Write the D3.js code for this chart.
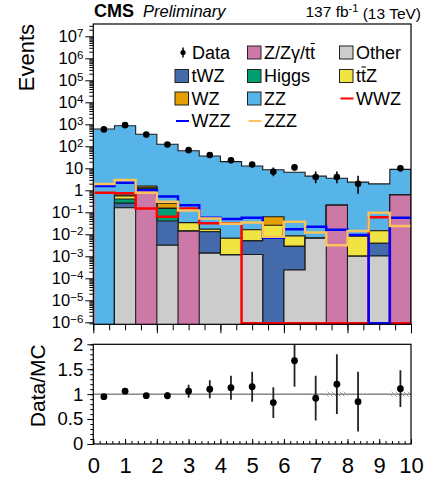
<!DOCTYPE html>
<html><head><meta charset="utf-8">
<script src="https://cdn.jsdelivr.net/npm/d3@7"></script>
<style>body{margin:0;background:#fff}svg{display:block;font-family:"Liberation Sans",Arial,Helvetica,sans-serif}</style>
</head><body><svg id="c" width="427" height="479"></svg>
<script>
// ---- data ----
const binEdges = [0, 2/3, 4/3, 2, 8/3, 10/3, 4, 14/3, 16/3, 6, 20/3, 22/3, 8, 26/3, 28/3, 10];
const other = [0, 0.16, 0, 0.0032, 0, 0.0014, 0.00115, 0.0012, 0, 0.00024, 0.0066, 0, 0.001, 0.00104, 0];
const zzg   = [0, 0, 1.03, 0, 0.014, 0, 0, 0, 0, 0, 0, 0.21, 0, 0, 0.62];
const twz   = [0, 0.10, 0.10, 0.037, 0, 0.0116, 0, 0.0038, 0.0066, 0.0026, 0, 0, 0, 0.0029, 0];
const higgs = [0, 0.14, 0.10, 0.11, 0, 0, 0, 0, 0, 0, 0, 0, 0, 0, 0];
const ttz   = [0, 0.16, 0.15, 0, 0.02, 0.004, 0.0055, 0.011, 0.019, 0.0055, 0, 0, 0.0073, 0.0106, 0];
const wz    = [0, 0.05, 0.20, 0.11, 0, 0, 0, 0, 0.037, 0, 0, 0, 0, 0, 0];
const zz    = [611, 862, 349, 124, 63, 36, 20, 12.7, 8.5, 6.6, 4.4, 3.3, 2.35, 1.94, 8.3];
const wwzSig = [0.78, 0.73, 0.15, 0.063, 0.15, 0.032, 0.032, 0, 0, 0, 0, 0, 0, 0.059, 0];
const wzzSig = [1.57, 2.2, 1.0, 0.52, 0.21, 0.056, 0.05, 0.056, 0.007, 0.017, 0.022, 0.016, 0.0093, 0, 0.056];
const zzzSig = [1.93, 2.95, 0.78, 0.30, 0.12, 0.052, 0.030, 0.034, 0.0078, 0.037, 0.012, 0.0032, 0.014, 0.095, 0.024];
const dataVals  = [587, 915, 340, 120, 67, 40, 23, 15, 7, 11, 4, 4, 2, null, 10];
const dataErrLo = [24, 30, 18, 11, 8.2, 6.3, 4.8, 3.8, 2.6, 3.3, 1.9, 1.9, 1.3, null, 3.1];
const dataErrHi = [25, 31, 19, 12, 9.2, 7.4, 5.9, 5.0, 3.8, 4.4, 3.2, 3.2, 2.6, null, 4.3];
const ratioVals = [0.95, 1.06, 0.97, 0.97, 1.06, 1.10, 1.13, 1.15, 0.83, 1.67, 0.92, 1.20, 0.85, null, 1.11];
const ratioErr  = [0.04, 0.04, 0.05, 0.07, 0.13, 0.18, 0.24, 0.30, 0.31, 0.52, 0.45, 0.60, 0.60, null, 0.37];
const mcUnc     = [0.01, 0.01, 0.01, 0.01, 0.01, 0.01, 0.01, 0.015, 0.015, 0.015, 0.02, 0.05, 0.015, 0.02, 0.05];
const yMajorTicks = [-6, -5, -4, -3, -2, -1, 0, 1, 2, 3, 4, 5, 6, 7];
const ratioTicks = [0, 0.5, 1, 1.5, 2];
const ratioTickLabels = ["0", "0.5", "1", "1.5", "2"];
const xTicks = [0, 1, 2, 3, 4, 5, 6, 7, 8, 9, 10];

const stackKeys = ["other", "zzg", "twz", "higgs", "ttz", "wz", "zz"];
const stackColors = {other:"#cccccc", zzg:"#cc79a7", twz:"#436aab", higgs:"#009e73", ttz:"#f0e442", wz:"#e69f00", zz:"#56b4e9"};
const seriesArrays = {other, zzg, twz, higgs, ttz, wz, zz};

// ---- layout ----
const svg = d3.select("#c");
const L = 93.3, R = 411, T = 24, B = 324.3, RT = 344.3, RB = 444;
const x = d3.scaleLinear().domain([0, 10]).range([L, R]);
const y = d3.scaleLog().domain([Math.pow(10, -6.0909), Math.pow(10, 7.559)]).range([B, T]);
const yr = d3.scaleLinear().domain([0, 2]).range([RB, RT]);
const nb = binEdges.length - 1;
const centers = d3.range(nb).map(i => (binEdges[i] + binEdges[i + 1]) / 2);
const yv = v => (v > 0 ? y(v) : B + 2);

const defs = svg.append("defs");
defs.append("clipPath").attr("id", "clipMain").append("rect").attr("x", L).attr("y", T).attr("width", R - L).attr("height", B - T + 0.5);
defs.append("clipPath").attr("id", "clipRatio").append("rect").attr("x", L).attr("y", RT).attr("width", R - L).attr("height", RB - RT);
const pat = defs.append("pattern").attr("id", "hatch").attr("patternUnits", "userSpaceOnUse").attr("width", 4).attr("height", 4);
pat.append("path").attr("d", "M-1,-1 L5,5 M-1,3 L1,5 M3,-1 L5,1").attr("stroke", "#8a8a8a").attr("stroke-width", 0.8);

// ---- main stack ----
const rows = d3.range(nb).map(i => { const o = {}; stackKeys.forEach(k => o[k] = seriesArrays[k][i]); return o; });
const stacked = d3.stack().keys(stackKeys)(rows);
const gMain = svg.append("g").attr("clip-path", "url(#clipMain)");
const stepPts = arr => binEdges.map((e, i) => ({e, v: arr[Math.min(i, nb - 1)]}));
const area = d3.area().curve(d3.curveStepAfter).x(d => x(d.e)).y0(B + 2).y1(d => yv(d.v));
const line = d3.line().curve(d3.curveStepAfter).x(d => x(d.e)).y(d => yv(d.v));

for (let k = stacked.length - 1; k >= 0; k--) {
  const tops = stacked[k].map(d => d[1]);
  gMain.append("path").datum(stepPts(tops)).attr("d", area)
    .attr("fill", stackColors[stacked[k].key]).attr("stroke", "#1a1a1a").attr("stroke-width", 1.1);
}

// signal lines
const sigLine = d3.line().curve(d3.curveStepAfter).x(d => x(d.e)).y(d => (d.v > 0 ? y(d.v) : B - 1));
const sigs = [[wwzSig, "#ff0000"], [wzzSig, "#0000ff"], [zzzSig, "#fcc35c"]];
sigs.forEach(([arr, col]) => {
  const pts = [{e: binEdges[0], v: 0}].concat(stepPts(arr));
  gMain.append("path").datum(pts).attr("d", sigLine).attr("fill", "none").attr("stroke", col).attr("stroke-width", 2.5);
});

// data points
const gData = svg.append("g").attr("clip-path", "url(#clipMain)");
d3.range(nb).forEach(i => {
  if (dataVals[i] == null) return;
  gData.append("line").attr("x1", x(centers[i])).attr("x2", x(centers[i]))
    .attr("y1", y(dataVals[i] - dataErrLo[i])).attr("y2", y(dataVals[i] + dataErrHi[i]))
    .attr("stroke", "#000").attr("stroke-width", 1.6);
  gData.append("circle").attr("cx", x(centers[i])).attr("cy", y(dataVals[i])).attr("r", 3.3).attr("fill", "#000");
});

// main axes
const fmtSup = (sel) => {
  sel.selectAll(".tick text").each(function (d) {
    const e = Math.round(Math.log10(d));
    const t = d3.select(this).text(null);
    if (e === 0) { t.text("1"); return; }
    if (e === 1) { t.text("10"); return; }
    t.append("tspan").text("10");
    t.append("tspan").attr("dy", "-0.45em").attr("font-size", "11.5px").text(e < 0 ? "\u2212" + (-e) : String(e));
  });
};
const yMajor = yMajorTicks.map(e => Math.pow(10, e));
const yMinor = [];
for (let e = -7; e <= 7; e++) for (let m = 2; m <= 9; m++) { const v = m * Math.pow(10, e); if (v > y.domain()[0] && v < y.domain()[1]) yMinor.push(v); }
svg.append("g").attr("transform", `translate(${L},0)`)
  .call(d3.axisLeft(y).tickValues(yMinor).tickSize(4).tickFormat(""))
  .call(g => g.select(".domain").remove()).selectAll("line").attr("stroke", "#000");
const gY = svg.append("g").attr("transform", `translate(${L},0)`)
  .call(d3.axisLeft(y).tickValues(yMajor).tickSize(8).tickPadding(2))
  .call(g => g.select(".domain").remove());
gY.selectAll("line").attr("stroke", "#000");
gY.selectAll("text").attr("font-size", "16.5px").attr("fill", "#000").attr("font-family", "Liberation Sans, Arial, sans-serif");
fmtSup(gY);

// main x ticks (below frame, no labels)
const mainMinorX = d3.range(0, 10.01, 0.5);
svg.append("g").attr("transform", `translate(0,${B})`)
  .call(d3.axisBottom(x).tickValues(mainMinorX).tickSize(6).tickFormat(""))
  .call(g => g.select(".domain").remove()).selectAll("line").attr("stroke", "#000");
svg.append("g").attr("transform", `translate(0,${B})`)
  .call(d3.axisBottom(x).tickValues([0, 2, 4, 6, 8, 10]).tickSize(9).tickFormat(""))
  .call(g => g.select(".domain").remove()).selectAll("line").attr("stroke", "#000");

svg.append("rect").attr("x", L).attr("y", T).attr("width", R - L).attr("height", B - T)
  .attr("fill", "none").attr("stroke", "#000").attr("stroke-width", 1.2);

// ---- ratio panel ----
const gR = svg.append("g").attr("clip-path", "url(#clipRatio)");
d3.range(nb).forEach(i => {
  gR.append("rect").attr("x", x(binEdges[i])).attr("width", x(binEdges[i + 1]) - x(binEdges[i]))
    .attr("y", yr(1 + mcUnc[i])).attr("height", yr(1 - mcUnc[i]) - yr(1 + mcUnc[i]))
    .attr("fill", "url(#hatch)");
});
gR.append("line").attr("x1", x(0)).attr("x2", x(10)).attr("y1", yr(1)).attr("y2", yr(1))
  .attr("stroke", "#8c8c8c").attr("stroke-width", 1.5);
d3.range(nb).forEach(i => {
  if (ratioVals[i] == null) return;
  gR.append("line").attr("x1", x(centers[i])).attr("x2", x(centers[i]))
    .attr("y1", yr(ratioVals[i] - ratioErr[i])).attr("y2", yr(ratioVals[i] + ratioErr[i]))
    .attr("stroke", "#222").attr("stroke-width", 1.8);
  gR.append("circle").attr("cx", x(centers[i])).attr("cy", yr(ratioVals[i])).attr("r", 3.4).attr("fill", "#000");
});

svg.append("g").attr("transform", `translate(${L},0)`)
  .call(d3.axisLeft(yr).tickValues(d3.range(0, 2.001, 0.1)).tickSize(3).tickFormat(""))
  .call(g => g.select(".domain").remove()).selectAll("line").attr("stroke", "#000");
const gRY = svg.append("g").attr("transform", `translate(${L},0)`)
  .call(d3.axisLeft(yr).tickValues(ratioTicks).tickSize(6).tickPadding(4).tickFormat((d, i) => ratioTickLabels[i]))
  .call(g => g.select(".domain").remove());
gRY.selectAll("line").attr("stroke", "#000");
gRY.selectAll("text").attr("font-size", "18.5px").attr("fill", "#000").attr("font-family", "Liberation Sans, Arial, sans-serif");

svg.append("g").attr("transform", `translate(0,${RB})`)
  .call(d3.axisBottom(x).tickValues(d3.range(0, 10.001, 0.2)).tickSize(-3).tickFormat(""))
  .call(g => g.select(".domain").remove()).selectAll("line").attr("stroke", "#000");
const gRX = svg.append("g").attr("transform", `translate(0,${RB})`)
  .call(d3.axisBottom(x).tickValues(xTicks).tickSize(-5).tickPadding(13).tickFormat(d3.format("d")))
  .call(g => g.select(".domain").remove());
gRX.selectAll("line").attr("stroke", "#000");
gRX.selectAll("text").attr("font-size", "22px").attr("fill", "#000").attr("font-family", "Liberation Sans, Arial, sans-serif");

svg.append("rect").attr("x", L).attr("y", RT).attr("width", R - L).attr("height", RB - RT)
  .attr("fill", "none").attr("stroke", "#000").attr("stroke-width", 1.2);

// ---- titles ----
svg.append("text").attr("transform", "translate(34,24) rotate(-90)").attr("text-anchor", "end")
  .attr("font-size", "22px").text("Events");
svg.append("text").attr("transform", `translate(45,${RT}) rotate(-90)`).attr("text-anchor", "end")
  .attr("font-size", "21px").text("Data/MC");
svg.append("text").attr("x", 94).attr("y", 17).attr("font-size", "18px").attr("font-weight", "bold").text("CMS");
svg.append("text").attr("x", 143).attr("y", 17).attr("font-size", "16.5px").attr("font-style", "italic").text("Preliminary");
const lumi = svg.append("text").attr("x", 421).attr("y", 17).attr("font-size", "15.5px").attr("text-anchor", "end");
lumi.append("tspan").text("137 fb");
lumi.append("tspan").attr("dy", "-0.45em").attr("font-size", "11px").text("-1");
lumi.append("tspan").attr("dy", "0.45em").text(" (13 TeV)");

// ---- legend ----
const legend = [
  {label: "Data", type: "data", col: 0, row: 0},
  {label: "Z/Z\u03b3/tt", type: "box", color: stackColors.zzg, col: 1, row: 0, bar: 6},
  {label: "Other", type: "box", color: stackColors.other, col: 2, row: 0},
  {label: "tWZ", type: "box", color: stackColors.twz, col: 0, row: 1},
  {label: "Higgs", type: "box", color: stackColors.higgs, col: 1, row: 1},
  {label: "ttZ", type: "box", color: stackColors.ttz, col: 2, row: 1, bar: 1},
  {label: "WZ", type: "box", color: stackColors.wz, col: 0, row: 2},
  {label: "ZZ", type: "box", color: stackColors.zz, col: 1, row: 2},
  {label: "WWZ", type: "line", color: "#ff0000", col: 2, row: 2},
  {label: "WZZ", type: "line", color: "#0000ff", col: 0, row: 3},
  {label: "ZZZ", type: "line", color: "#fcc35c", col: 1, row: 3}
];
const colX = [175, 247.5, 339.5];
const rowY = [52.5, 76, 98.5, 121];
const gL = svg.append("g");
legend.forEach(d => {
  const bx = colX[d.col], cy = rowY[d.row];
  if (d.type === "box") {
    gL.append("rect").attr("x", bx).attr("y", cy - 6.5).attr("width", 13.5).attr("height", 13)
      .attr("fill", d.color).attr("stroke", "#222").attr("stroke-width", 1);
  } else if (d.type === "line") {
    gL.append("line").attr("x1", bx + 1).attr("x2", bx + 14).attr("y1", cy).attr("y2", cy)
      .attr("stroke", d.color).attr("stroke-width", 2);
  } else {
    gL.append("line").attr("x1", bx + 8).attr("x2", bx + 8).attr("y1", cy - 5).attr("y2", cy + 5)
      .attr("stroke", "#000").attr("stroke-width", 1.5);
    gL.append("circle").attr("cx", bx + 8).attr("cy", cy).attr("r", 2.6).attr("fill", "#000");
  }
  const tx = bx + (d.type === "data" ? 17 : 16.5);
  const t = gL.append("text").attr("x", tx).attr("y", cy + 6.3).attr("font-size", "18px").text(d.label);
  if (d.bar != null) {
    const node = t.node();
    const x0 = tx + node.getSubStringLength(0, d.bar);
    const w = node.getSubStringLength(d.bar, 1);
    gL.append("line").attr("x1", x0 + 0.5).attr("x2", x0 + w - 0.2).attr("y1", cy - 9).attr("y2", cy - 9)
      .attr("stroke", "#000").attr("stroke-width", 1.1);
  }
});
</script></body></html>
